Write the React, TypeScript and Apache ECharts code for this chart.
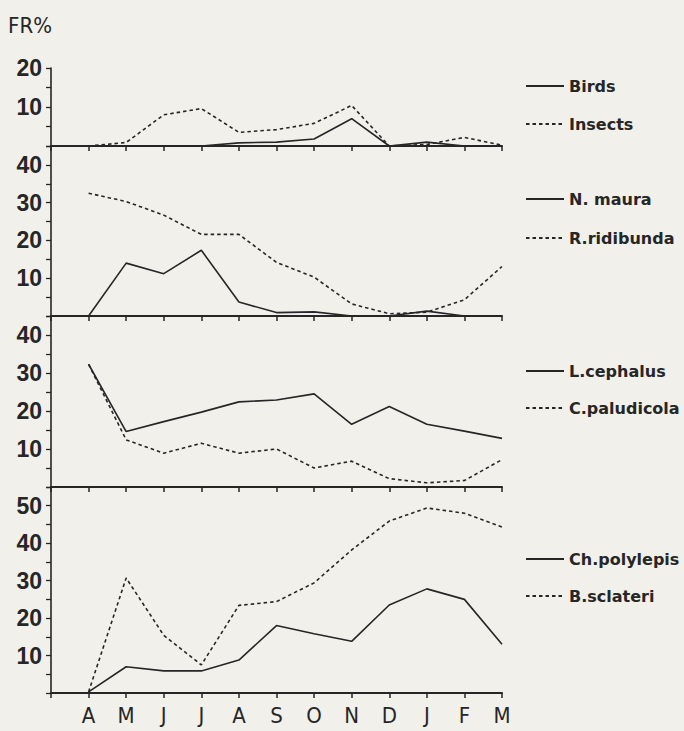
import React, { useEffect, useRef } from 'react';
import * as echarts from 'echarts';

const months = ['A', 'M', 'J', 'J', 'A', 'S', 'O', 'N', 'D', 'J', 'F', 'M'];

const birds = [0, 0, 0, 0, 0.8, 1, 1.8, 7, 0, 1, 0, 0];
const insects = [0, 0.9, 8, 9.6, 3.5, 4.2, 5.8, 10.4, 0, 0.4, 2.2, 0.2];

const nMaura = [0, 14, 11.2, 17.4, 3.7, 0.9, 1.1, 0, 0, 1.3, 0, 0];
const rRidibunda = [32.5, 30.3, 26.7, 21.6, 21.6, 14.2, 10.3, 3.2, 0.6, 1, 4.3, 13.1];

const lCephalus = [32.3, 14.6, 17.2, 19.7, 22.4, 22.9, 24.5, 16.5, 21.2, 16.5, 14.7, 12.8];
const cPaludicola = [32.3, 12.4, 8.9, 11.5, 8.9, 10, 5, 6.8, 2.2, 1.1, 1.7, 7.2];

const chPolylepis = [0.3, 7, 5.9, 5.9, 8.8, 18, 15.8, 13.8, 23.5, 27.8, 25, 13];
const bSclateri = [0.3, 30.7, 15.4, 7.5, 23.4, 24.4, 29.4, 38.2, 45.9, 49.4, 48, 44.3];

const yMax = [20, 45, 45, 55];

const panels = [
  { solid: 'Birds', dashed: 'Insects', s: birds, d: insects, top: 68, height: 78, legendTop: 71, legendGap: 18 },
  { solid: 'N. maura', dashed: 'R.ridibunda', s: nMaura, d: rRidibunda, top: 146, height: 170, legendTop: 184, legendGap: 19 },
  { solid: 'L.cephalus', dashed: 'C.paludicola', s: lCephalus, d: cPaludicola, top: 316, height: 171, legendTop: 356, legendGap: 17 },
  { solid: 'Ch.polylepis', dashed: 'B.sclateri', s: chPolylepis, d: bSclateri, top: 487, height: 206, legendTop: 544, legendGap: 17 },
];

const INK = '#262626';
const BG = '#f1f0eb';

export default function App() {
  const ref = useRef<HTMLDivElement>(null);

  useEffect(() => {
    document.body.style.margin = '0';
    document.body.style.background = BG;
    if (!ref.current) return;
    const chart = echarts.init(ref.current, undefined, { renderer: 'svg' });

    const grid: any[] = [];
    const xAxis: any[] = [];
    const yAxis: any[] = [];
    const series: any[] = [];
    const legend: any[] = [];

    panels.forEach((p, i) => {
      grid.push({ left: 51, width: 451, top: p.top, height: p.height, containLabel: false });
      xAxis.push({
        type: 'value',
        gridIndex: i,
        min: 0,
        max: 12,
        interval: 1,
        splitLine: { show: false },
        axisLine: { show: true, onZero: false, lineStyle: { color: INK, width: 2 } },
        axisTick: { show: true, length: 5, lineStyle: { color: INK, width: 1.5 } },
        axisLabel: {
          show: i === 3,
          margin: 11,
          formatter: (v: number) => (v >= 1 ? months[v - 1] : ''),
          fontFamily: "'Liberation Sans Narrow', 'DejaVu Sans Condensed', 'Liberation Sans', sans-serif",
          fontSize: 22,
          color: INK,
        },
      });
      yAxis.push({
        type: 'value',
        gridIndex: i,
        min: 0,
        max: yMax[i],
        interval: 5,
        splitLine: { show: false },
        axisLine: { show: true, lineStyle: { color: INK, width: 1.6 } },
        axisTick: { show: true, length: 5, lineStyle: { color: INK, width: 1.3 } },
        axisLabel: {
          margin: 9,
          formatter: (v: number) => (v > 0 && v % 10 === 0 ? String(v) : ''),
          fontFamily: "'Liberation Sans', Arial, sans-serif",
          fontWeight: 'bold',
          fontSize: 23,
          color: INK,
        },
      });
      series.push({
        name: p.solid,
        type: 'line',
        xAxisIndex: i,
        yAxisIndex: i,
        symbol: 'none',
        data: p.s.map((v, k) => [k + 1, v]),
        lineStyle: { color: INK, width: 1.6, type: 'solid' },
        itemStyle: { color: INK },
      });
      series.push({
        name: p.dashed,
        type: 'line',
        xAxisIndex: i,
        yAxisIndex: i,
        symbol: 'none',
        data: p.d.map((v, k) => [k + 1, v]),
        lineStyle: { color: INK, width: 1.6, type: [3.5, 3] },
        itemStyle: { color: INK },
      });
      legend.push({
        data: [p.solid, p.dashed],
        orient: 'vertical',
        left: 520,
        top: p.legendTop,
        itemWidth: 38,
        itemHeight: 20,
        itemGap: p.legendGap,
        selectedMode: false,
        itemStyle: { opacity: 0 },
        textStyle: {
          fontFamily: "'DejaVu Sans', sans-serif",
          fontWeight: 'bold',
          fontSize: 16,
          lineHeight: 20,
          color: INK,
        },
      });
    });

    chart.setOption({
      animation: false,
      backgroundColor: BG,
      grid,
      xAxis,
      yAxis,
      series,
      legend,
      graphic: [
        {
          type: 'text',
          left: 8,
          top: 14,
          style: {
            text: 'FR%',
            fill: INK,
            font: "22px 'Liberation Sans Narrow', 'DejaVu Sans Condensed', 'Liberation Sans', sans-serif",
          },
        },
      ],
    });

    return () => chart.dispose();
  }, []);

  return <div ref={ref} style={{ width: 684, height: 731, background: BG }} />;
}
